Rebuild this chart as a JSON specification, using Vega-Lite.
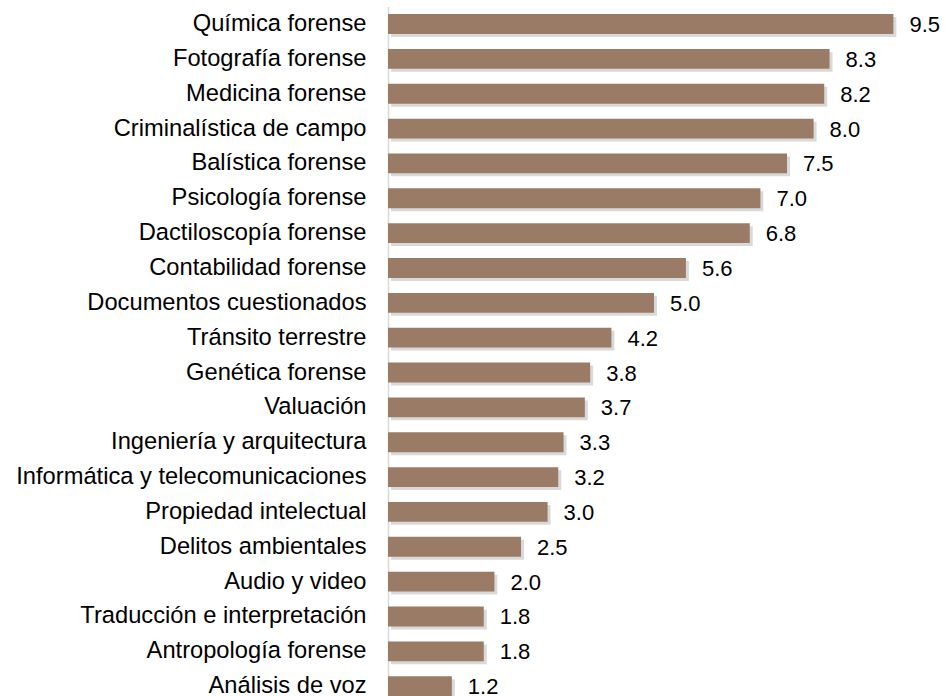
{
  "$schema": "https://vega.github.io/schema/vega-lite/v6.json",
  "width": 532,
  "height": 696,
  "autosize": "none",
  "padding": {"left": 388, "top": 0, "right": 25, "bottom": 0},
  "background": "white",
  "config": {"view": {"stroke": null}, "font": "Liberation Sans"},
  "data": {"values": [
    {"area": "Química forense", "value": 9.5},
    {"area": "Fotografía forense", "value": 8.3},
    {"area": "Medicina forense", "value": 8.2},
    {"area": "Criminalística de campo", "value": 8.0},
    {"area": "Balística forense", "value": 7.5},
    {"area": "Psicología forense", "value": 7.0},
    {"area": "Dactiloscopía forense", "value": 6.8},
    {"area": "Contabilidad forense", "value": 5.6},
    {"area": "Documentos cuestionados", "value": 5.0},
    {"area": "Tránsito terrestre", "value": 4.2},
    {"area": "Genética forense", "value": 3.8},
    {"area": "Valuación", "value": 3.7},
    {"area": "Ingeniería y arquitectura", "value": 3.3},
    {"area": "Informática y telecomunicaciones", "value": 3.2},
    {"area": "Propiedad intelectual", "value": 3.0},
    {"area": "Delitos ambientales", "value": 2.5},
    {"area": "Audio y video", "value": 2.0},
    {"area": "Traducción e interpretación", "value": 1.8},
    {"area": "Antropología forense", "value": 1.8},
    {"area": "Análisis de voz", "value": 1.2}
  ]},
  "encoding": {
    "y": {"field": "area", "type": "nominal", "sort": null, "title": null,
      "scale": {"range": [6.6, 703.6], "paddingInner": 0.43, "paddingOuter": 0.215},
      "axis": {"ticks": false, "domainColor": "#D9D9D9", "domainWidth": 1.5, "labelFontSize": 23.7, "labelColor": "#000000", "labelPadding": 22, "labelLimit": 400}},
    "x": {"field": "value", "type": "quantitative", "scale": {"domain": [0, 10]}, "axis": null}
  },
  "layer": [
    {"mark": {"type": "bar", "color": "#000000", "opacity": 0.15, "xOffset": 3, "yOffset": 3}},
    {"mark": {"type": "bar", "color": "#9A7B66"}},
    {"mark": {"type": "text", "align": "left", "baseline": "middle", "dx": 16, "dy": 1, "fontSize": 22, "color": "#000000"},
     "encoding": {"text": {"field": "value", "type": "quantitative", "format": ".1f"}}}
  ]
}
